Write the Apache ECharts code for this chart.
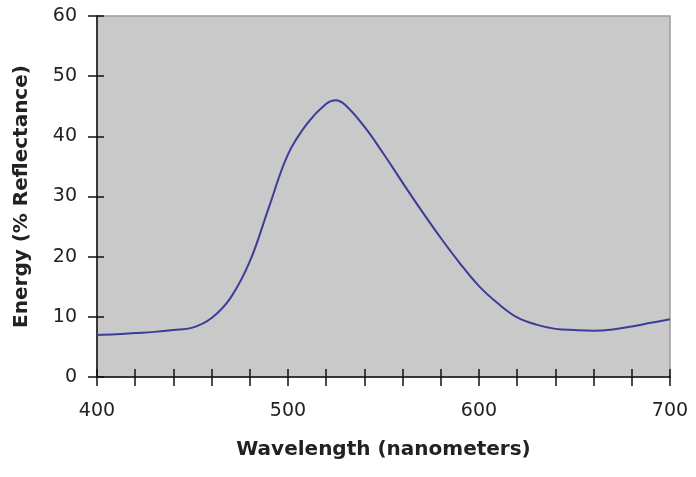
<!DOCTYPE html>
<html><head><meta charset="utf-8">
<script src="https://cdn.jsdelivr.net/npm/echarts@6/dist/echarts.min.js"></script>
<style>html,body{margin:0;padding:0;background:#fff}#c{width:696px;height:477px}</style>
</head><body><div id="c"></div>
<script>
const wavelengths = [400,410,420,430,440,450,460,470,480,490,500,510,520,525,530,540,550,560,570,580,590,600,610,620,630,640,650,660,670,680,690,700];
const energy = [7.0,7.1,7.3,7.5,7.8,8.2,9.8,13.2,19.2,28.2,37.0,42.1,45.4,46.0,45.2,41.6,37.1,32.3,27.6,23.1,18.9,15.1,12.2,9.9,8.7,8.0,7.8,7.7,7.9,8.4,9.0,9.6];
const xTickLabels = [400,500,600,700];
const yTickLabels = [0,10,20,30,40,50,60];
const xTitle = 'Wavelength (nanometers)';
const yTitle = 'Energy (% Reflectance)';

const font = 'DejaVu Sans, Verdana, sans-serif';
const chart = echarts.init(document.getElementById('c'));
const lbl = {color:'#222', fontSize:19, fontFamily:font};
chart.setOption({
  animation:false,
  backgroundColor:'#fff',
  grid:{left:97, top:16, right:26, bottom:100, show:true, backgroundColor:'#c9c9c9', borderColor:'#9c9c9c', borderWidth:1.5},
  xAxis:[{
    type:'value', min:400, max:700, interval:20,
    name:xTitle, nameLocation:'middle', nameGap:63,
    nameTextStyle:{fontSize:20, fontWeight:'bold', color:'#222', fontFamily:font},
    axisLine:{show:true, lineStyle:{color:'#111', width:1.5}},
    axisTick:{show:true, length:9, lineStyle:{color:'#111', width:1.5}},
    axisLabel:Object.assign({margin:25, formatter:v=>xTickLabels.includes(v)?String(v):''}, lbl),
    splitLine:{show:false}
  },{
    type:'value', min:400, max:700, interval:20, position:'bottom',
    axisLine:{show:false}, axisLabel:{show:false}, splitLine:{show:false},
    axisTick:{show:true, inside:true, length:8, lineStyle:{color:'#111', width:1.5}}
  }],
  yAxis:[{
    type:'value', min:0, max:60, interval:10,
    name:yTitle, nameLocation:'middle', nameGap:65,
    nameTextStyle:{fontSize:20, fontWeight:'bold', color:'#222', fontFamily:font},
    axisLine:{show:true, lineStyle:{color:'#111', width:1.5}},
    axisTick:{show:true, length:9, lineStyle:{color:'#111', width:1.5}},
    axisLabel:Object.assign({margin:20, padding:[5,0,0,0], formatter:v=>yTickLabels.includes(v)?String(v):''}, lbl),
    splitLine:{show:false}
  },{
    type:'value', min:0, max:60, interval:10, position:'left',
    axisLine:{show:false}, axisLabel:{show:false}, splitLine:{show:false},
    axisTick:{show:true, inside:true, length:7, lineStyle:{color:'#111', width:1.5}}
  }],
  series:[{
    type:'line', smooth:0.4, showSymbol:false,
    data:wavelengths.map((w,i)=>[w,energy[i]]),
    lineStyle:{color:'#3c3c9a', width:2}
  }]
});
</script></body></html>
